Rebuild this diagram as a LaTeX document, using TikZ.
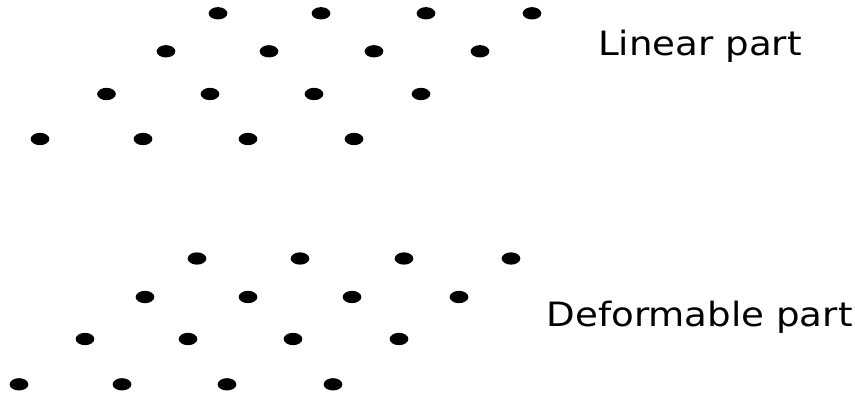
\documentclass[tikz,border=0pt]{standalone}
\usepackage{fontspec}
\setmainfont{DejaVu Sans}
\usetikzlibrary{shapes.geometric, positioning}

\begin{document}
\begin{tikzpicture}[
  x=1pt, y=-1pt,
  dot/.style={ellipse, fill=black, minimum width=18.7pt, minimum height=12.3pt, inner sep=0pt},
  lbl/.style={anchor=base west, inner sep=0pt, font=\fontsize{33.5}{40}\selectfont}
]
  \useasboundingbox (0,0) rectangle (855,396);

  % linear part
  \foreach \y/\xs [count=\r] in {13.3/{218,321,426,532}, 51.3/{166,269,374,480},
                                 94/{106.5,210,314,421}, 139/{40,143,248,354}}
    \foreach \x [count=\c] in \xs
      \node[dot] (lin-\r-\c) at (\x,\y) {};

  % deformable part
  \foreach \y/\xs [count=\r] in {258.5/{197,300,404,511}, 297/{145,248,352,459},
                                 339/{85,188,293,399}, 384.3/{19,122,227,333}}
    \foreach \x [count=\c] in \xs
      \node[dot] (def-\r-\c) at (\x,\y) {};

  \node[lbl] (linear) at (598,56) {\scalebox{1.11}[1]{Linear part}};
  \node[lbl] (deform) at (546.5,326.7) {\scalebox{1.11}[1]{Deformable part}};
\end{tikzpicture}
\end{document}
